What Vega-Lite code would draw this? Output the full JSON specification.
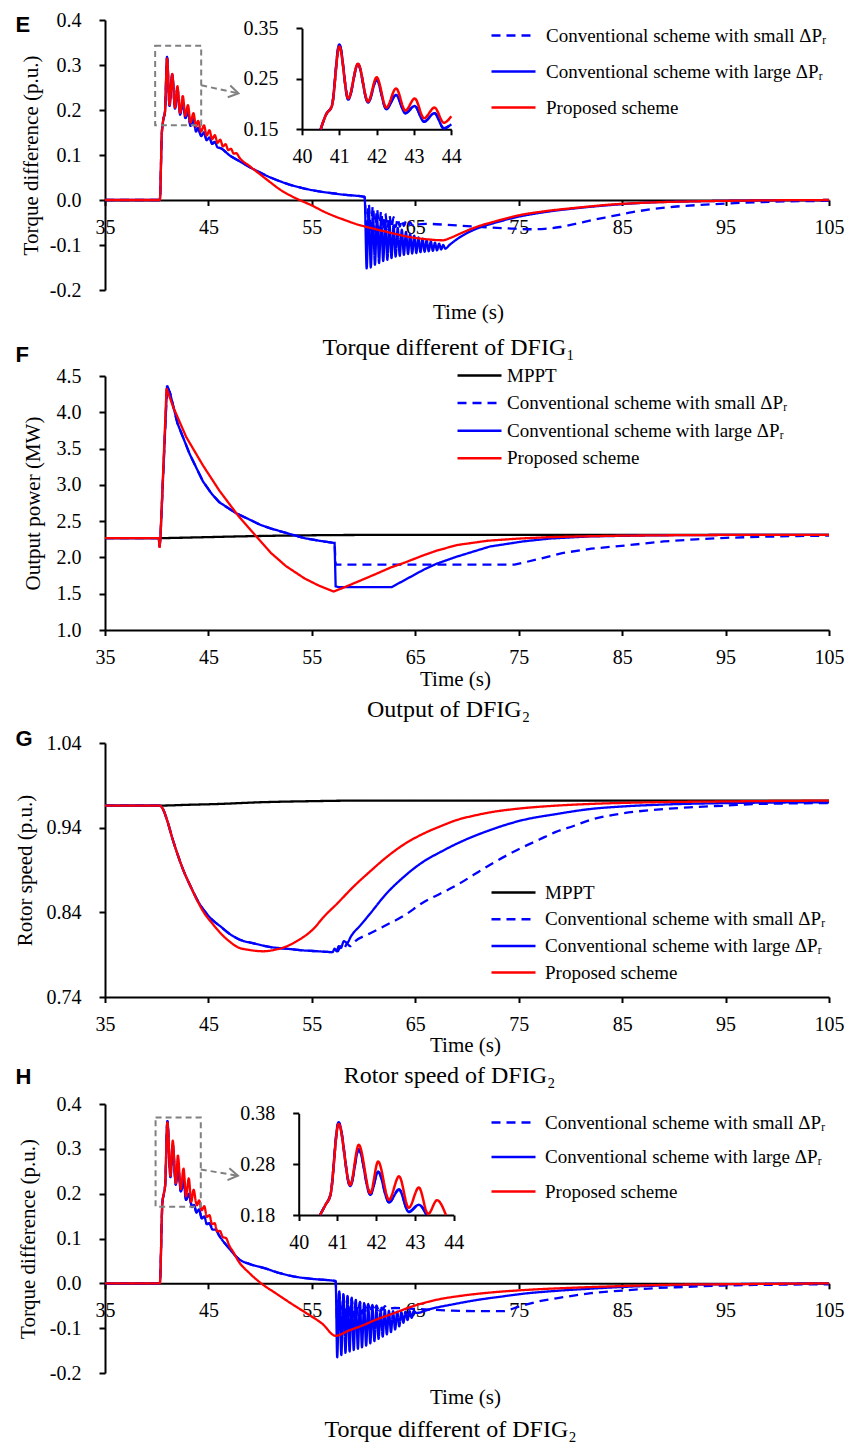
{
"$schema":"https://vega.github.io/schema/vega-lite/v6.json",
"background":"white",
"padding":{"left":13,"top":10,"right":5,"bottom":0},
"autosize":{"type":"pad"},
"spacing":0,
"bounds":"flush",
"datasets":{
"E":[
{"s":"S","t":35,"v":0},{"s":"S","t":40.3,"v":0},{"s":"S","t":40.5,"v":0.15},{"s":"S","t":40.65,"v":0.18},{"s":"S","t":40.8,"v":0.196},{"s":"S","t":41,"v":0.318},{"s":"S","t":41.24,"v":0.209},{"s":"S","t":41.5,"v":0.279},{"s":"S","t":41.77,"v":0.203},{"s":"S","t":42,"v":0.248},{"s":"S","t":42.26,"v":0.19},{"s":"S","t":42.52,"v":0.218},{"s":"S","t":42.77,"v":0.182},{"s":"S","t":43.02,"v":0.196},{"s":"S","t":43.27,"v":0.165},{"s":"S","t":43.55,"v":0.182},{"s":"S","t":43.8,"v":0.152},{"s":"S","t":44,"v":0.16},{"s":"S","t":44.3,"v":0.142},{"s":"S","t":44.57,"v":0.15},{"s":"S","t":44.83,"v":0.133},{"s":"S","t":45.1,"v":0.139},{"s":"S","t":45.36,"v":0.125},{"s":"S","t":45.62,"v":0.129},{"s":"S","t":45.88,"v":0.117},{"s":"S","t":46.2,"v":0.115},{"s":"S","t":47,"v":0.1},{"s":"S","t":48,"v":0.086},{"s":"S","t":49,"v":0.073},{"s":"S","t":50,"v":0.061},{"s":"S","t":51,"v":0.05},{"s":"S","t":52,"v":0.041},{"s":"S","t":53,"v":0.033},{"s":"S","t":54,"v":0.027},{"s":"S","t":55,"v":0.022},{"s":"S","t":56,"v":0.018},{"s":"S","t":57,"v":0.015},{"s":"S","t":58,"v":0.012},{"s":"S","t":59,"v":0.01},{"s":"S","t":60.1,"v":0.007},
{"s":"S","t":60.3,"v":-0.075},{"s":"S","t":60.5,"v":-0.008},{"s":"S","t":60.7,"v":-0.073},{"s":"S","t":60.9,"v":-0.013},{"s":"S","t":61.1,"v":-0.07},{"s":"S","t":61.3,"v":-0.02},{"s":"S","t":61.5,"v":-0.068},{"s":"S","t":61.7,"v":-0.025},{"s":"S","t":61.9,"v":-0.066},{"s":"S","t":62.1,"v":-0.03},{"s":"S","t":62.3,"v":-0.064},{"s":"S","t":62.5,"v":-0.034},{"s":"S","t":62.7,"v":-0.062},{"s":"S","t":62.9,"v":-0.038},{"s":"S","t":63.1,"v":-0.06},{"s":"S","t":63.3,"v":-0.041},{"s":"S","t":63.5,"v":-0.059},{"s":"S","t":63.7,"v":-0.044},{"s":"S","t":63.9,"v":-0.058},{"s":"S","t":64.1,"v":-0.047},{"s":"S","t":64.3,"v":-0.057},{"s":"S","t":64.5,"v":-0.049},{"s":"S","t":64.7,"v":-0.056},{"s":"S","t":64.9,"v":-0.05},{"s":"S","t":65.2,"v":-0.054},{"s":"S","t":66,"v":-0.053},{"s":"S","t":68,"v":-0.055},{"s":"S","t":70,"v":-0.058},{"s":"S","t":72,"v":-0.061},{"s":"S","t":74,"v":-0.063},{"s":"S","t":76,"v":-0.065},{"s":"S","t":77.5,"v":-0.064},{"s":"S","t":79,"v":-0.06},{"s":"S","t":80.5,"v":-0.053},{"s":"S","t":82,"v":-0.045},{"s":"S","t":84,"v":-0.036},{"s":"S","t":86,"v":-0.027},{"s":"S","t":88,"v":-0.02},{"s":"S","t":90,"v":-0.015},{"s":"S","t":92.5,"v":-0.011},{"s":"S","t":95,"v":-0.008},{"s":"S","t":98,"v":-0.005},{"s":"S","t":101,"v":-0.003},{"s":"S","t":105,"v":-0.002},
{"s":"L","t":35,"v":0},{"s":"L","t":40.3,"v":0},{"s":"L","t":40.5,"v":0.15},{"s":"L","t":40.65,"v":0.18},{"s":"L","t":40.8,"v":0.196},{"s":"L","t":41,"v":0.318},{"s":"L","t":41.24,"v":0.209},{"s":"L","t":41.5,"v":0.279},{"s":"L","t":41.77,"v":0.203},{"s":"L","t":42,"v":0.248},{"s":"L","t":42.26,"v":0.19},{"s":"L","t":42.52,"v":0.218},{"s":"L","t":42.77,"v":0.182},{"s":"L","t":43.02,"v":0.196},{"s":"L","t":43.27,"v":0.165},{"s":"L","t":43.55,"v":0.182},{"s":"L","t":43.8,"v":0.152},{"s":"L","t":44,"v":0.16},{"s":"L","t":44.3,"v":0.142},{"s":"L","t":44.57,"v":0.15},{"s":"L","t":44.83,"v":0.133},{"s":"L","t":45.1,"v":0.139},{"s":"L","t":45.36,"v":0.125},{"s":"L","t":45.62,"v":0.129},{"s":"L","t":45.88,"v":0.117},{"s":"L","t":46.2,"v":0.115},{"s":"L","t":47,"v":0.1},{"s":"L","t":48,"v":0.086},{"s":"L","t":49,"v":0.073},{"s":"L","t":50,"v":0.061},{"s":"L","t":51,"v":0.05},{"s":"L","t":52,"v":0.041},{"s":"L","t":53,"v":0.033},{"s":"L","t":54,"v":0.027},{"s":"L","t":55,"v":0.022},{"s":"L","t":56,"v":0.018},{"s":"L","t":57,"v":0.015},{"s":"L","t":58,"v":0.012},{"s":"L","t":59,"v":0.01},{"s":"L","t":60.1,"v":0.007},
{"s":"L","t":60.3,"v":-0.152},{"s":"L","t":60.5,"v":-0.02},{"s":"L","t":60.7,"v":-0.15},{"s":"L","t":60.9,"v":-0.028},{"s":"L","t":61.1,"v":-0.144},{"s":"L","t":61.3,"v":-0.035},{"s":"L","t":61.5,"v":-0.14},{"s":"L","t":61.7,"v":-0.04},{"s":"L","t":61.9,"v":-0.136},{"s":"L","t":62.1,"v":-0.047},{"s":"L","t":62.3,"v":-0.133},{"s":"L","t":62.5,"v":-0.052},{"s":"L","t":62.7,"v":-0.129},{"s":"L","t":62.9,"v":-0.057},{"s":"L","t":63.1,"v":-0.126},{"s":"L","t":63.3,"v":-0.062},{"s":"L","t":63.5,"v":-0.124},{"s":"L","t":63.7,"v":-0.066},{"s":"L","t":63.9,"v":-0.122},{"s":"L","t":64.1,"v":-0.071},{"s":"L","t":64.3,"v":-0.12},{"s":"L","t":64.5,"v":-0.075},{"s":"L","t":64.7,"v":-0.119},{"s":"L","t":64.9,"v":-0.079},{"s":"L","t":65.1,"v":-0.118},{"s":"L","t":65.3,"v":-0.083},{"s":"L","t":65.5,"v":-0.116},{"s":"L","t":65.7,"v":-0.086},{"s":"L","t":65.9,"v":-0.115},{"s":"L","t":66.1,"v":-0.089},{"s":"L","t":66.3,"v":-0.114},{"s":"L","t":66.5,"v":-0.092},{"s":"L","t":66.7,"v":-0.113},{"s":"L","t":66.9,"v":-0.095},{"s":"L","t":67.1,"v":-0.112},{"s":"L","t":67.3,"v":-0.097},{"s":"L","t":67.5,"v":-0.11},{"s":"L","t":67.7,"v":-0.1},{"s":"L","t":67.9,"v":-0.108},{"s":"L","t":68.3,"v":-0.1},{"s":"L","t":69.5,"v":-0.08},{"s":"L","t":70.9,"v":-0.064},{"s":"L","t":72.8,"v":-0.05},{"s":"L","t":74.8,"v":-0.038},{"s":"L","t":77.5,"v":-0.027},{"s":"L","t":80.7,"v":-0.018},{"s":"L","t":84,"v":-0.011},{"s":"L","t":87.2,"v":-0.006},{"s":"L","t":92,"v":-0.003},{"s":"L","t":98,"v":-0.001},{"s":"L","t":105,"v":0},
{"s":"P","t":35,"v":0},{"s":"P","t":40.3,"v":0},{"s":"P","t":40.5,"v":0.15},{"s":"P","t":40.65,"v":0.18},{"s":"P","t":40.8,"v":0.196},{"s":"P","t":41,"v":0.314},{"s":"P","t":41.24,"v":0.211},{"s":"P","t":41.5,"v":0.28},{"s":"P","t":41.77,"v":0.205},{"s":"P","t":42,"v":0.253},{"s":"P","t":42.26,"v":0.193},{"s":"P","t":42.52,"v":0.231},{"s":"P","t":42.77,"v":0.187},{"s":"P","t":43.02,"v":0.211},{"s":"P","t":43.27,"v":0.172},{"s":"P","t":43.55,"v":0.193},{"s":"P","t":43.8,"v":0.163},{"s":"P","t":44,"v":0.176},{"s":"P","t":44.3,"v":0.152},{"s":"P","t":44.57,"v":0.166},{"s":"P","t":44.83,"v":0.143},{"s":"P","t":45.1,"v":0.155},{"s":"P","t":45.36,"v":0.135},{"s":"P","t":45.62,"v":0.144},{"s":"P","t":45.88,"v":0.127},{"s":"P","t":46.14,"v":0.134},{"s":"P","t":46.4,"v":0.119},{"s":"P","t":46.66,"v":0.124},{"s":"P","t":46.92,"v":0.111},{"s":"P","t":47.18,"v":0.114},{"s":"P","t":47.44,"v":0.103},{"s":"P","t":47.7,"v":0.104},{"s":"P","t":48,"v":0.094},{"s":"P","t":49,"v":0.075},{"s":"P","t":50,"v":0.057},{"s":"P","t":51,"v":0.039},{"s":"P","t":52,"v":0.022},{"s":"P","t":53,"v":0.009},{"s":"P","t":54,"v":-0.002},{"s":"P","t":55,"v":-0.012},{"s":"P","t":56,"v":-0.024},{"s":"P","t":57.3,"v":-0.037},{"s":"P","t":58,"v":-0.043},{"s":"P","t":59.5,"v":-0.055},{"s":"P","t":61.2,"v":-0.065},{"s":"P","t":63,"v":-0.075},{"s":"P","t":64.4,"v":-0.082},{"s":"P","t":66,"v":-0.087},{"s":"P","t":67.7,"v":-0.0895},{"s":"P","t":68.3,"v":-0.085},{"s":"P","t":69.5,"v":-0.073},{"s":"P","t":70.9,"v":-0.06},{"s":"P","t":72.8,"v":-0.047},{"s":"P","t":74.8,"v":-0.035},{"s":"P","t":77.5,"v":-0.025},{"s":"P","t":80.7,"v":-0.017},{"s":"P","t":84,"v":-0.01},{"s":"P","t":87.2,"v":-0.006},{"s":"P","t":92,"v":-0.003},{"s":"P","t":98,"v":-0.001},{"s":"P","t":105,"v":0}
],
"F":[
{"s":"M","t":35,"v":2.265},{"s":"M","t":40.3,"v":2.265},{"s":"M","t":42,"v":2.27},{"s":"M","t":45,"v":2.28},{"s":"M","t":48,"v":2.29},{"s":"M","t":51,"v":2.298},{"s":"M","t":54,"v":2.304},{"s":"M","t":57,"v":2.308},{"s":"M","t":60,"v":2.31},{"s":"M","t":70,"v":2.312},{"s":"M","t":105,"v":2.312},
{"s":"S","t":35,"v":2.265},{"s":"S","t":40.2,"v":2.265},{"s":"S","t":40.28,"v":2.15},{"s":"S","t":40.36,"v":2.27},{"s":"S","t":41,"v":4.37},{"s":"S","t":41.3,"v":4.26},{"s":"S","t":42,"v":3.85},{"s":"S","t":43.2,"v":3.42},{"s":"S","t":44.46,"v":3.05},{"s":"S","t":45.3,"v":2.88},{"s":"S","t":46.06,"v":2.76},{"s":"S","t":47.66,"v":2.61},{"s":"S","t":49,"v":2.52},{"s":"S","t":50,"v":2.45},{"s":"S","t":51,"v":2.4},{"s":"S","t":52.7,"v":2.33},{"s":"S","t":54.3,"v":2.265},{"s":"S","t":55.7,"v":2.23},{"s":"S","t":57.1,"v":2.2},{"s":"S","t":57.2,"v":2.2},
{"s":"S","t":57.3,"v":1.9},{"s":"S","t":74.6,"v":1.9},{"s":"S","t":77,"v":1.98},{"s":"S","t":79.2,"v":2.06},{"s":"S","t":82,"v":2.12},{"s":"S","t":85.7,"v":2.17},{"s":"S","t":89,"v":2.22},{"s":"S","t":92.1,"v":2.25},{"s":"S","t":95,"v":2.27},{"s":"S","t":98.5,"v":2.285},{"s":"S","t":102,"v":2.295},{"s":"S","t":105,"v":2.3},
{"s":"L","t":35,"v":2.265},{"s":"L","t":40.2,"v":2.265},{"s":"L","t":40.28,"v":2.15},{"s":"L","t":40.36,"v":2.27},{"s":"L","t":41,"v":4.37},{"s":"L","t":41.3,"v":4.26},{"s":"L","t":42,"v":3.85},{"s":"L","t":43.2,"v":3.42},{"s":"L","t":44.46,"v":3.05},{"s":"L","t":45.3,"v":2.88},{"s":"L","t":46.06,"v":2.76},{"s":"L","t":47.66,"v":2.61},{"s":"L","t":49,"v":2.52},{"s":"L","t":50,"v":2.45},{"s":"L","t":51,"v":2.4},{"s":"L","t":52.7,"v":2.33},{"s":"L","t":54.3,"v":2.265},{"s":"L","t":55.7,"v":2.23},{"s":"L","t":57.1,"v":2.2},{"s":"L","t":57.2,"v":2.2},
{"s":"L","t":57.3,"v":1.6},{"s":"L","t":57.6,"v":1.59},{"s":"L","t":62.7,"v":1.59},{"s":"L","t":64,"v":1.69},{"s":"L","t":65.8,"v":1.83},{"s":"L","t":67,"v":1.91},{"s":"L","t":69,"v":2.01},{"s":"L","t":72.2,"v":2.15},{"s":"L","t":75.4,"v":2.22},{"s":"L","t":78,"v":2.26},{"s":"L","t":81.9,"v":2.29},{"s":"L","t":88.3,"v":2.305},{"s":"L","t":95,"v":2.31},{"s":"L","t":105,"v":2.312},
{"s":"P","t":35,"v":2.265},{"s":"P","t":40.2,"v":2.265},{"s":"P","t":40.28,"v":2.13},{"s":"P","t":40.36,"v":2.27},{"s":"P","t":40.95,"v":4.33},{"s":"P","t":41.6,"v":4.07},{"s":"P","t":42.85,"v":3.66},{"s":"P","t":44.46,"v":3.27},{"s":"P","t":46.06,"v":2.92},{"s":"P","t":47.85,"v":2.58},{"s":"P","t":49.13,"v":2.37},{"s":"P","t":51.06,"v":2.06},{"s":"P","t":52.5,"v":1.88},{"s":"P","t":54.3,"v":1.71},{"s":"P","t":55.7,"v":1.61},{"s":"P","t":57.1,"v":1.53},{"s":"P","t":58,"v":1.58},{"s":"P","t":59,"v":1.64},{"s":"P","t":60,"v":1.7},{"s":"P","t":61,"v":1.76},{"s":"P","t":62.6,"v":1.86},{"s":"P","t":64,"v":1.93},{"s":"P","t":65.8,"v":2.03},{"s":"P","t":67,"v":2.09},{"s":"P","t":69,"v":2.17},{"s":"P","t":72,"v":2.23},{"s":"P","t":75,"v":2.26},{"s":"P","t":78,"v":2.28},{"s":"P","t":81,"v":2.29},{"s":"P","t":85,"v":2.3},{"s":"P","t":90,"v":2.306},{"s":"P","t":95,"v":2.31},{"s":"P","t":105,"v":2.312}
],
"G":[
{"s":"M","t":35,"v":0.966},{"s":"M","t":40,"v":0.966},{"s":"M","t":43,"v":0.967},{"s":"M","t":46,"v":0.968},{"s":"M","t":50,"v":0.97},{"s":"M","t":55,"v":0.9713},{"s":"M","t":60,"v":0.972},{"s":"M","t":105,"v":0.972},
{"s":"S","t":35,"v":0.966},{"s":"S","t":40.3,"v":0.966},{"s":"S","t":40.6,"v":0.962},{"s":"S","t":41,"v":0.949},{"s":"S","t":41.5,"v":0.928},{"s":"S","t":42,"v":0.909},{"s":"S","t":42.6,"v":0.889},{"s":"S","t":43.3,"v":0.87},{"s":"S","t":44,"v":0.853},{"s":"S","t":44.6,"v":0.842},{"s":"S","t":45.3,"v":0.832},{"s":"S","t":46.2,"v":0.823},{"s":"S","t":47,"v":0.815},{"s":"S","t":47.8,"v":0.809},{"s":"S","t":49.5,"v":0.803},{"s":"S","t":51,"v":0.799},{"s":"S","t":52.6,"v":0.797},{"s":"S","t":54.2,"v":0.795},{"s":"S","t":55.6,"v":0.794},{"s":"S","t":57,"v":0.793},
{"s":"S","t":57.2,"v":0.797},{"s":"S","t":57.5,"v":0.794},{"s":"S","t":57.8,"v":0.8},{"s":"S","t":58.1,"v":0.797},{"s":"S","t":58.4,"v":0.803},{"s":"S","t":58.7,"v":0.8},{"s":"S","t":59.2,"v":0.806},{"s":"S","t":60.6,"v":0.815},{"s":"S","t":62.2,"v":0.825},{"s":"S","t":63.9,"v":0.836},{"s":"S","t":65.8,"v":0.852},{"s":"S","t":67.4,"v":0.862},{"s":"S","t":69,"v":0.872},{"s":"S","t":70.6,"v":0.884},{"s":"S","t":72.2,"v":0.896},{"s":"S","t":73.8,"v":0.907},{"s":"S","t":75.4,"v":0.917},{"s":"S","t":77,"v":0.926},{"s":"S","t":78.6,"v":0.935},{"s":"S","t":80.3,"v":0.942},{"s":"S","t":81.9,"v":0.949},{"s":"S","t":85.1,"v":0.957},{"s":"S","t":88,"v":0.961},{"s":"S","t":91.5,"v":0.964},{"s":"S","t":95,"v":0.966},{"s":"S","t":98,"v":0.968},{"s":"S","t":105,"v":0.969},
{"s":"L","t":35,"v":0.966},{"s":"L","t":40.3,"v":0.966},{"s":"L","t":40.6,"v":0.962},{"s":"L","t":41,"v":0.949},{"s":"L","t":41.5,"v":0.928},{"s":"L","t":42,"v":0.909},{"s":"L","t":42.6,"v":0.889},{"s":"L","t":43.3,"v":0.87},{"s":"L","t":44,"v":0.853},{"s":"L","t":44.6,"v":0.842},{"s":"L","t":45.3,"v":0.832},{"s":"L","t":46.2,"v":0.823},{"s":"L","t":47,"v":0.815},{"s":"L","t":47.8,"v":0.809},{"s":"L","t":49.5,"v":0.803},{"s":"L","t":51,"v":0.799},{"s":"L","t":52.6,"v":0.797},{"s":"L","t":54.2,"v":0.795},{"s":"L","t":55.6,"v":0.794},{"s":"L","t":57,"v":0.793},
{"s":"L","t":57.2,"v":0.797},{"s":"L","t":57.4,"v":0.794},{"s":"L","t":57.6,"v":0.8},{"s":"L","t":57.8,"v":0.798},{"s":"L","t":58.1,"v":0.806},{"s":"L","t":58.4,"v":0.804},{"s":"L","t":58.8,"v":0.812},{"s":"L","t":59.1,"v":0.817},{"s":"L","t":59.5,"v":0.822},{"s":"L","t":60.6,"v":0.838},{"s":"L","t":62.2,"v":0.862},{"s":"L","t":63.9,"v":0.882},{"s":"L","t":65.8,"v":0.9},{"s":"L","t":67.4,"v":0.911},{"s":"L","t":69,"v":0.921},{"s":"L","t":72.2,"v":0.937},{"s":"L","t":75.4,"v":0.949},{"s":"L","t":78.6,"v":0.956},{"s":"L","t":81.9,"v":0.962},{"s":"L","t":85,"v":0.965},{"s":"L","t":88.3,"v":0.967},{"s":"L","t":95,"v":0.969},{"s":"L","t":105,"v":0.97},
{"s":"P","t":35,"v":0.966},{"s":"P","t":40.3,"v":0.966},{"s":"P","t":40.6,"v":0.962},{"s":"P","t":41,"v":0.949},{"s":"P","t":41.5,"v":0.928},{"s":"P","t":42,"v":0.909},{"s":"P","t":42.6,"v":0.889},{"s":"P","t":43.3,"v":0.87},{"s":"P","t":44,"v":0.852},{"s":"P","t":44.6,"v":0.839},{"s":"P","t":45.3,"v":0.828},{"s":"P","t":46.2,"v":0.815},{"s":"P","t":47,"v":0.806},{"s":"P","t":47.8,"v":0.799},{"s":"P","t":49,"v":0.7955},{"s":"P","t":50.3,"v":0.794},{"s":"P","t":51.5,"v":0.796},{"s":"P","t":52.6,"v":0.8},{"s":"P","t":53.4,"v":0.805},{"s":"P","t":54.2,"v":0.811},{"s":"P","t":55.2,"v":0.821},{"s":"P","t":56.1,"v":0.834},{"s":"P","t":57.5,"v":0.851},{"s":"P","t":59,"v":0.87},{"s":"P","t":60.6,"v":0.888},{"s":"P","t":62.2,"v":0.905},{"s":"P","t":64,"v":0.921},{"s":"P","t":65.8,"v":0.933},{"s":"P","t":67.5,"v":0.942},{"s":"P","t":69,"v":0.949},{"s":"P","t":70.6,"v":0.954},{"s":"P","t":72.2,"v":0.958},{"s":"P","t":75.4,"v":0.963},{"s":"P","t":78.6,"v":0.966},{"s":"P","t":81.9,"v":0.968},{"s":"P","t":88,"v":0.97},{"s":"P","t":95,"v":0.971},{"s":"P","t":105,"v":0.972}
],
"H":[
{"s":"S","t":35,"v":0},{"s":"S","t":40.3,"v":0},{"s":"S","t":40.55,"v":0.18},{"s":"S","t":40.69,"v":0.2},{"s":"S","t":40.82,"v":0.22},{"s":"S","t":41.03,"v":0.362},{"s":"S","t":41.33,"v":0.237},{"s":"S","t":41.55,"v":0.309},{"s":"S","t":41.85,"v":0.22},{"s":"S","t":42.05,"v":0.265},{"s":"S","t":42.33,"v":0.205},{"s":"S","t":42.59,"v":0.23},{"s":"S","t":42.84,"v":0.186},{"s":"S","t":43.1,"v":0.2},{"s":"S","t":43.3,"v":0.18},{"s":"S","t":43.4,"v":0.17},{"s":"S","t":43.6,"v":0.175},{"s":"S","t":43.85,"v":0.158},{"s":"S","t":44.1,"v":0.165},{"s":"S","t":44.35,"v":0.145},{"s":"S","t":44.6,"v":0.149},{"s":"S","t":44.85,"v":0.132},{"s":"S","t":45.1,"v":0.134},{"s":"S","t":45.4,"v":0.12},{"s":"S","t":45.7,"v":0.12},{"s":"S","t":46,"v":0.108},{"s":"S","t":47,"v":0.078},{"s":"S","t":48,"v":0.053},{"s":"S","t":49,"v":0.043},{"s":"S","t":50.4,"v":0.034},{"s":"S","t":52,"v":0.022},{"s":"S","t":53.6,"v":0.014},{"s":"S","t":55,"v":0.01},{"s":"S","t":57,"v":0.006},{"s":"S","t":57.3,"v":0.005},
{"s":"S","t":57.45,"v":-0.09},{"s":"S","t":57.65,"v":-0.02},{"s":"S","t":57.85,"v":-0.088},{"s":"S","t":58.05,"v":-0.025},{"s":"S","t":58.25,"v":-0.083},{"s":"S","t":58.45,"v":-0.03},{"s":"S","t":58.65,"v":-0.079},{"s":"S","t":58.85,"v":-0.034},{"s":"S","t":59.05,"v":-0.075},{"s":"S","t":59.25,"v":-0.038},{"s":"S","t":59.45,"v":-0.071},{"s":"S","t":59.65,"v":-0.041},{"s":"S","t":59.85,"v":-0.068},{"s":"S","t":60.05,"v":-0.044},{"s":"S","t":60.25,"v":-0.066},{"s":"S","t":60.45,"v":-0.046},{"s":"S","t":60.65,"v":-0.064},{"s":"S","t":60.85,"v":-0.048},{"s":"S","t":61.05,"v":-0.062},{"s":"S","t":61.25,"v":-0.049},{"s":"S","t":61.45,"v":-0.06},{"s":"S","t":61.65,"v":-0.05},{"s":"S","t":61.85,"v":-0.059},{"s":"S","t":62.05,"v":-0.051},{"s":"S","t":62.3,"v":-0.057},{"s":"S","t":63,"v":-0.055},{"s":"S","t":65,"v":-0.057},{"s":"S","t":68.6,"v":-0.061},{"s":"S","t":71,"v":-0.062},{"s":"S","t":73.5,"v":-0.062},{"s":"S","t":75,"v":-0.052},{"s":"S","t":77,"v":-0.04},{"s":"S","t":79.3,"v":-0.031},{"s":"S","t":82,"v":-0.022},{"s":"S","t":85.1,"v":-0.016},{"s":"S","t":88,"v":-0.011},{"s":"S","t":91,"v":-0.008},{"s":"S","t":94.7,"v":-0.005},{"s":"S","t":100,"v":-0.003},{"s":"S","t":105,"v":-0.002},
{"s":"L","t":35,"v":0},{"s":"L","t":40.3,"v":0},{"s":"L","t":40.55,"v":0.18},{"s":"L","t":40.69,"v":0.2},{"s":"L","t":40.82,"v":0.22},{"s":"L","t":41.03,"v":0.362},{"s":"L","t":41.33,"v":0.237},{"s":"L","t":41.55,"v":0.309},{"s":"L","t":41.85,"v":0.22},{"s":"L","t":42.05,"v":0.265},{"s":"L","t":42.33,"v":0.205},{"s":"L","t":42.59,"v":0.23},{"s":"L","t":42.84,"v":0.186},{"s":"L","t":43.1,"v":0.2},{"s":"L","t":43.3,"v":0.18},{"s":"L","t":43.4,"v":0.17},{"s":"L","t":43.6,"v":0.175},{"s":"L","t":43.85,"v":0.158},{"s":"L","t":44.1,"v":0.165},{"s":"L","t":44.35,"v":0.145},{"s":"L","t":44.6,"v":0.149},{"s":"L","t":44.85,"v":0.132},{"s":"L","t":45.1,"v":0.134},{"s":"L","t":45.4,"v":0.12},{"s":"L","t":45.7,"v":0.12},{"s":"L","t":46,"v":0.108},{"s":"L","t":47,"v":0.078},{"s":"L","t":48,"v":0.053},{"s":"L","t":49,"v":0.043},{"s":"L","t":50.4,"v":0.034},{"s":"L","t":52,"v":0.022},{"s":"L","t":53.6,"v":0.014},{"s":"L","t":55,"v":0.01},{"s":"L","t":57,"v":0.006},{"s":"L","t":57.3,"v":0.005},
{"s":"L","t":57.45,"v":-0.165},{"s":"L","t":57.65,"v":-0.018},{"s":"L","t":57.85,"v":-0.16},{"s":"L","t":58.05,"v":-0.024},{"s":"L","t":58.25,"v":-0.155},{"s":"L","t":58.45,"v":-0.028},{"s":"L","t":58.65,"v":-0.152},{"s":"L","t":58.85,"v":-0.032},{"s":"L","t":59.05,"v":-0.149},{"s":"L","t":59.25,"v":-0.037},{"s":"L","t":59.45,"v":-0.146},{"s":"L","t":59.65,"v":-0.042},{"s":"L","t":59.85,"v":-0.143},{"s":"L","t":60.05,"v":-0.045},{"s":"L","t":60.25,"v":-0.139},{"s":"L","t":60.45,"v":-0.049},{"s":"L","t":60.65,"v":-0.134},{"s":"L","t":60.85,"v":-0.052},{"s":"L","t":61.05,"v":-0.129},{"s":"L","t":61.25,"v":-0.055},{"s":"L","t":61.45,"v":-0.124},{"s":"L","t":61.65,"v":-0.058},{"s":"L","t":61.85,"v":-0.119},{"s":"L","t":62.05,"v":-0.059},{"s":"L","t":62.25,"v":-0.114},{"s":"L","t":62.45,"v":-0.061},{"s":"L","t":62.65,"v":-0.109},{"s":"L","t":62.85,"v":-0.062},{"s":"L","t":63.05,"v":-0.103},{"s":"L","t":63.25,"v":-0.063},{"s":"L","t":63.45,"v":-0.096},{"s":"L","t":63.65,"v":-0.064},{"s":"L","t":63.85,"v":-0.088},{"s":"L","t":64.05,"v":-0.063},{"s":"L","t":64.25,"v":-0.082},{"s":"L","t":64.45,"v":-0.062},{"s":"L","t":64.65,"v":-0.077},{"s":"L","t":64.85,"v":-0.062},{"s":"L","t":65.1,"v":-0.066},{"s":"L","t":66.5,"v":-0.057},{"s":"L","t":68.6,"v":-0.047},{"s":"L","t":71,"v":-0.037},{"s":"L","t":73.5,"v":-0.029},{"s":"L","t":75.5,"v":-0.023},{"s":"L","t":78.5,"v":-0.017},{"s":"L","t":81.9,"v":-0.012},{"s":"L","t":85.1,"v":-0.008},{"s":"L","t":90,"v":-0.004},{"s":"L","t":95,"v":-0.002},{"s":"L","t":105,"v":0},
{"s":"P","t":35,"v":0},{"s":"P","t":40.3,"v":0},{"s":"P","t":40.55,"v":0.18},{"s":"P","t":40.69,"v":0.2},{"s":"P","t":40.82,"v":0.22},{"s":"P","t":41.03,"v":0.359},{"s":"P","t":41.33,"v":0.239},{"s":"P","t":41.55,"v":0.318},{"s":"P","t":41.85,"v":0.223},{"s":"P","t":42.05,"v":0.285},{"s":"P","t":42.33,"v":0.21},{"s":"P","t":42.59,"v":0.256},{"s":"P","t":42.84,"v":0.194},{"s":"P","t":43.1,"v":0.234},{"s":"P","t":43.34,"v":0.182},{"s":"P","t":43.57,"v":0.209},{"s":"P","t":43.8,"v":0.18},{"s":"P","t":43.9,"v":0.174},{"s":"P","t":44.1,"v":0.185},{"s":"P","t":44.35,"v":0.163},{"s":"P","t":44.6,"v":0.172},{"s":"P","t":44.85,"v":0.148},{"s":"P","t":45.1,"v":0.152},{"s":"P","t":45.35,"v":0.132},{"s":"P","t":45.6,"v":0.134},{"s":"P","t":45.85,"v":0.116},{"s":"P","t":46.1,"v":0.117},{"s":"P","t":46.4,"v":0.103},{"s":"P","t":46.7,"v":0.101},{"s":"P","t":47,"v":0.085},{"s":"P","t":47.4,"v":0.07},{"s":"P","t":47.86,"v":0.051},{"s":"P","t":49,"v":0.022},{"s":"P","t":50.1,"v":0},{"s":"P","t":51.5,"v":-0.022},{"s":"P","t":53,"v":-0.045},{"s":"P","t":54.5,"v":-0.067},{"s":"P","t":56,"v":-0.09},{"s":"P","t":57.3,"v":-0.117},{"s":"P","t":58.5,"v":-0.106},{"s":"P","t":60,"v":-0.093},{"s":"P","t":61,"v":-0.083},{"s":"P","t":63,"v":-0.066},{"s":"P","t":64.9,"v":-0.05},{"s":"P","t":67,"v":-0.037},{"s":"P","t":69.7,"v":-0.027},{"s":"P","t":72.5,"v":-0.02},{"s":"P","t":75.5,"v":-0.015},{"s":"P","t":80,"v":-0.01},{"s":"P","t":85.1,"v":-0.006},{"s":"P","t":90,"v":-0.003},{"s":"P","t":95,"v":-0.002},{"s":"P","t":105,"v":0}
]
},
"vconcat":[
{
"width":724,"height":356,
"layer":[
{"data":{"name":"E"},"mark":{"type":"line","strokeWidth":2.3,"interpolate":"monotone"},
"encoding":{
"x":{"field":"t","type":"quantitative","scale":{"domain":[35,105],"nice":false,"zero":false},"axis":{"orient":"bottom","offset":-176,"values":[35,45,55,65,75,85,95,105],"format":"d","title":"Time (s)","titleX":363,"titleY":118,"titleAlign":"center","titleBaseline":"alphabetic"}},
"y":{"field":"v","type":"quantitative","scale":{"domain":[-0.2,0.4],"range":[270,0],"nice":false,"zero":false},"axis":{"orient":"left","values":[-0.2,-0.1,0,0.1,0.2,0.3,0.4],"labelExpr":"datum.value < 0 ? '-' + format(-datum.value, '.1f') : format(datum.value, '.1f')","title":"Torque difference (p.u.)","titleX":-74,"titleBaseline":"middle"}},
"color":{"field":"s","type":"nominal","scale":{"domain":["S","L","P"],"range":["#0000ff","#0000ff","#ff0000"]},"legend":{"title":null,"orient":"none","legendX":396,"legendY":3,"rowPadding":13,"labelOffset":20,"labelExpr":"datum.label == 'M' ? 'MPPT' : datum.label == 'S' ? 'Conventional scheme with small ΔPᵣ' : datum.label == 'L' ? 'Conventional scheme with large ΔPᵣ' : 'Proposed scheme'"}},
"strokeDash":{"field":"s","type":"nominal","scale":{"domain":["S","L","P"],"range":[[9,6],[1,0],[1,0]]},"legend":{"title":null,"orient":"none","legendX":396,"legendY":3,"rowPadding":13,"labelOffset":20,"labelExpr":"datum.label == 'M' ? 'MPPT' : datum.label == 'S' ? 'Conventional scheme with small ΔPᵣ' : datum.label == 'L' ? 'Conventional scheme with large ΔPᵣ' : 'Proposed scheme'"}}
}},
{"data":{"values":[{"x1":39.85,"x2":44.3,"y1":0.166,"y2":0.343}]},"mark":{"type":"rect","fill":"transparent","stroke":"#808080","strokeWidth":2,"strokeDash":[6,4]},
"encoding":{"x":{"field":"x1","type":"quantitative","scale":{"domain":[35,105],"nice":false,"zero":false},"axis":null},"x2":{"field":"x2"},"y":{"field":"y1","type":"quantitative","scale":{"domain":[-0.2,0.4],"range":[270,0],"nice":false,"zero":false},"axis":null},"y2":{"field":"y2"}}},
{"data":{"values":[{"t":44.3,"v":0.255},{"t":47.9,"v":0.237}]},"mark":{"type":"line","color":"#808080","strokeWidth":2,"strokeDash":[6,4]},
"encoding":{"x":{"field":"t","type":"quantitative","scale":{"domain":[35,105],"nice":false,"zero":false},"axis":null},"y":{"field":"v","type":"quantitative","scale":{"domain":[-0.2,0.4],"range":[270,0],"nice":false,"zero":false},"axis":null}}},
{"data":{"values":[{"t":47.9,"v":0.237}]},"mark":{"type":"point","shape":"M-1.6,-1L0,0L-1.6,1","size":144,"filled":false,"color":"#808080","strokeWidth":2,"opacity":1,"angle":12},
"encoding":{"x":{"field":"t","type":"quantitative","scale":{"domain":[35,105],"nice":false,"zero":false},"axis":null},"y":{"field":"v","type":"quantitative","scale":{"domain":[-0.2,0.4],"range":[270,0],"nice":false,"zero":false},"axis":null}}},
{"data":{"name":"E"},"transform":[{"filter":"datum.t >= 40.45 && datum.t <= 44.0 && datum.v >= 0.15"}],"mark":{"type":"line","strokeWidth":2.5,"interpolate":"monotone"},
"encoding":{
"x":{"field":"t","type":"quantitative","scale":{"domain":[40,44],"range":[197,346.3],"nice":false,"zero":false},"axis":{"orient":"bottom","offset":-246.7,"values":[40,41,42,43,44],"format":"d","title":null}},
"y":{"field":"v","type":"quantitative","scale":{"domain":[0.15,0.35],"range":[109.3,8.3],"nice":false,"zero":false},"axis":{"orient":"left","offset":-197,"values":[0.15,0.25,0.35],"format":".2f","title":null}},
"color":{"field":"s","type":"nominal","scale":{"domain":["S","L","P"],"range":["#0000ff","#0000ff","#ff0000"]},"legend":null},
"strokeDash":{"field":"s","type":"nominal","scale":{"domain":["S","L","P"],"range":[[9,6],[1,0],[1,0]]},"legend":null}
}},
{"data":{"values":[{"t":70,"v":0}]},"mark":{"type":"point","opacity":0},
"encoding":{
"x":{"field":"t","type":"quantitative","scale":{"domain":[35,105],"nice":false,"zero":false},"axis":{"orient":"bottom","offset":0,"domain":false,"ticks":false,"labels":false,"title":"Torque different of DFIG₁","titleFontSize":24,"titleX":343,"titleY":-21.7,"titleAlign":"center","titleBaseline":"alphabetic"}},
"y":{"field":"v","type":"quantitative","scale":{"domain":[-1,1],"nice":false,"zero":false},"axis":{"orient":"left","offset":0,"domain":false,"ticks":false,"labels":false,"title":"E","titleAngle":0,"titleX":-90,"titleY":11.7,"titleAlign":"left","titleBaseline":"alphabetic","titleFont":"Liberation Sans","titleFontWeight":"bold","titleFontSize":22}}
}}
],
"resolve":{"scale":{"x":"independent","y":"independent"}}
},
{
"width":724,"height":367,
"layer":[
{"data":{"name":"F"},"mark":{"type":"line","strokeWidth":2.3},
"encoding":{
"x":{"field":"t","type":"quantitative","scale":{"domain":[35,105],"nice":false,"zero":false},"axis":{"orient":"bottom","offset":-113,"values":[35,45,55,65,75,85,95,105],"format":"d","title":"Time (s)","titleX":350,"titleY":55,"titleAlign":"center","titleBaseline":"alphabetic"}},
"y":{"field":"v","type":"quantitative","scale":{"domain":[1,4.5],"range":[254,0],"nice":false,"zero":false},"axis":{"orient":"left","values":[1,1.5,2,2.5,3,3.5,4,4.5],"format":".1f","title":"Output power (MW)","titleX":-71.5,"titleBaseline":"middle"}},
"color":{"field":"s","type":"nominal","scale":{"domain":["M","S","L","P"],"range":["#000000","#0000ff","#0000ff","#ff0000"]},"legend":{"title":null,"orient":"none","legendX":362,"legendY":-13,"rowPadding":4.6,"labelOffset":15,"labelExpr":"datum.label == 'M' ? 'MPPT' : datum.label == 'S' ? 'Conventional scheme with small ΔPᵣ' : datum.label == 'L' ? 'Conventional scheme with large ΔPᵣ' : 'Proposed scheme'"}},
"strokeDash":{"field":"s","type":"nominal","scale":{"domain":["M","S","L","P"],"range":[[1,0],[9,6],[1,0],[1,0]]},"legend":{"title":null,"orient":"none","legendX":362,"legendY":-13,"rowPadding":4.6,"labelOffset":15,"labelExpr":"datum.label == 'M' ? 'MPPT' : datum.label == 'S' ? 'Conventional scheme with small ΔPᵣ' : datum.label == 'L' ? 'Conventional scheme with large ΔPᵣ' : 'Proposed scheme'"}}
}},
{"data":{"values":[{"t":70,"v":0}]},"mark":{"type":"point","opacity":0},
"encoding":{
"x":{"field":"t","type":"quantitative","scale":{"domain":[35,105],"nice":false,"zero":false},"axis":{"orient":"bottom","offset":0,"domain":false,"ticks":false,"labels":false,"title":"Output of DFIG₂","titleFontSize":24,"titleX":343,"titleY":-26.3,"titleAlign":"center","titleBaseline":"alphabetic"}},
"y":{"field":"v","type":"quantitative","scale":{"domain":[-1,1],"nice":false,"zero":false},"axis":{"orient":"left","offset":0,"domain":false,"ticks":false,"labels":false,"title":"F","titleAngle":0,"titleX":-90,"titleY":-14.3,"titleAlign":"left","titleBaseline":"alphabetic","titleFont":"Liberation Sans","titleFontWeight":"bold","titleFontSize":22}}
}}
],
"resolve":{"scale":{"x":"independent","y":"independent"}}
},
{
"width":724,"height":361,
"layer":[
{"data":{"name":"G"},"mark":{"type":"line","strokeWidth":2.3,"interpolate":"monotone"},
"encoding":{
"x":{"field":"t","type":"quantitative","scale":{"domain":[35,105],"nice":false,"zero":false},"axis":{"orient":"bottom","offset":-107,"values":[35,45,55,65,75,85,95,105],"format":"d","title":"Time (s)","titleX":360,"titleY":54.7,"titleAlign":"center","titleBaseline":"alphabetic"}},
"y":{"field":"v","type":"quantitative","scale":{"domain":[0.74,1.04],"range":[254,0],"nice":false,"zero":false},"axis":{"orient":"left","values":[0.74,0.84,0.94,1.04],"format":".2f","title":"Rotor speed (p.u.)","titleX":-80,"titleBaseline":"middle"}},
"color":{"field":"s","type":"nominal","scale":{"domain":["M","S","L","P"],"range":["#000000","#0000ff","#0000ff","#ff0000"]},"legend":{"title":null,"orient":"none","legendX":396,"legendY":137,"rowPadding":3.7,"labelOffset":19,"labelExpr":"datum.label == 'M' ? 'MPPT' : datum.label == 'S' ? 'Conventional scheme with small ΔPᵣ' : datum.label == 'L' ? 'Conventional scheme with large ΔPᵣ' : 'Proposed scheme'"}},
"strokeDash":{"field":"s","type":"nominal","scale":{"domain":["M","S","L","P"],"range":[[1,0],[9,6],[1,0],[1,0]]},"legend":{"title":null,"orient":"none","legendX":396,"legendY":137,"rowPadding":3.7,"labelOffset":19,"labelExpr":"datum.label == 'M' ? 'MPPT' : datum.label == 'S' ? 'Conventional scheme with small ΔPᵣ' : datum.label == 'L' ? 'Conventional scheme with large ΔPᵣ' : 'Proposed scheme'"}}
}},
{"data":{"values":[{"t":70,"v":0}]},"mark":{"type":"point","opacity":0},
"encoding":{
"x":{"field":"t","type":"quantitative","scale":{"domain":[35,105],"nice":false,"zero":false},"axis":{"orient":"bottom","offset":0,"domain":false,"ticks":false,"labels":false,"title":"Rotor speed of DFIG₂","titleFontSize":24,"titleX":344,"titleY":-21.3,"titleAlign":"center","titleBaseline":"alphabetic"}},
"y":{"field":"v","type":"quantitative","scale":{"domain":[-1,1],"nice":false,"zero":false},"axis":{"orient":"left","offset":0,"domain":false,"ticks":false,"labels":false,"title":"G","titleAngle":0,"titleX":-90,"titleY":2,"titleAlign":"left","titleBaseline":"alphabetic","titleFont":"Liberation Sans","titleFontWeight":"bold","titleFontSize":22}}
}}
],
"resolve":{"scale":{"x":"independent","y":"independent"}}
},
{
"width":724,"height":341,
"layer":[
{"data":{"name":"H"},"mark":{"type":"line","strokeWidth":2.3,"interpolate":"monotone"},
"encoding":{
"x":{"field":"t","type":"quantitative","scale":{"domain":[35,105],"nice":false,"zero":false},"axis":{"orient":"bottom","offset":-161.7,"values":[35,45,55,65,75,85,95,105],"format":"d","title":"Time (s)","titleX":360,"titleY":119.7,"titleAlign":"center","titleBaseline":"alphabetic"}},
"y":{"field":"v","type":"quantitative","scale":{"domain":[-0.2,0.4],"range":[269,0],"nice":false,"zero":false},"axis":{"orient":"left","values":[-0.2,-0.1,0,0.1,0.2,0.3,0.4],"labelExpr":"datum.value < 0 ? '-' + format(-datum.value, '.1f') : format(datum.value, '.1f')","title":"Torque difference  (p.u.)","titleX":-77,"titleBaseline":"middle"}},
"color":{"field":"s","type":"nominal","scale":{"domain":["S","L","P"],"range":["#0000ff","#0000ff","#ff0000"]},"legend":{"title":null,"orient":"none","legendX":396,"legendY":6,"rowPadding":11.5,"labelOffset":19,"labelExpr":"datum.label == 'M' ? 'MPPT' : datum.label == 'S' ? 'Conventional scheme with small ΔPᵣ' : datum.label == 'L' ? 'Conventional scheme with large ΔPᵣ' : 'Proposed scheme'"}},
"strokeDash":{"field":"s","type":"nominal","scale":{"domain":["S","L","P"],"range":[[9,6],[1,0],[1,0]]},"legend":{"title":null,"orient":"none","legendX":396,"legendY":6,"rowPadding":11.5,"labelOffset":19,"labelExpr":"datum.label == 'M' ? 'MPPT' : datum.label == 'S' ? 'Conventional scheme with small ΔPᵣ' : datum.label == 'L' ? 'Conventional scheme with large ΔPᵣ' : 'Proposed scheme'"}}
}},
{"data":{"values":[{"x1":39.89,"x2":44.26,"y1":0.171,"y2":0.37}]},"mark":{"type":"rect","fill":"transparent","stroke":"#808080","strokeWidth":2,"strokeDash":[6,4]},
"encoding":{"x":{"field":"x1","type":"quantitative","scale":{"domain":[35,105],"nice":false,"zero":false},"axis":null},"x2":{"field":"x2"},"y":{"field":"y1","type":"quantitative","scale":{"domain":[-0.2,0.4],"range":[269,0],"nice":false,"zero":false},"axis":null},"y2":{"field":"y2"}}},
{"data":{"values":[{"t":44.26,"v":0.254},{"t":47.85,"v":0.24}]},"mark":{"type":"line","color":"#808080","strokeWidth":2,"strokeDash":[6,4]},
"encoding":{"x":{"field":"t","type":"quantitative","scale":{"domain":[35,105],"nice":false,"zero":false},"axis":null},"y":{"field":"v","type":"quantitative","scale":{"domain":[-0.2,0.4],"range":[269,0],"nice":false,"zero":false},"axis":null}}},
{"data":{"values":[{"t":47.85,"v":0.24}]},"mark":{"type":"point","shape":"M-1.6,-1L0,0L-1.6,1","size":144,"filled":false,"color":"#808080","strokeWidth":2,"opacity":1,"angle":9},
"encoding":{"x":{"field":"t","type":"quantitative","scale":{"domain":[35,105],"nice":false,"zero":false},"axis":null},"y":{"field":"v","type":"quantitative","scale":{"domain":[-0.2,0.4],"range":[269,0],"nice":false,"zero":false},"axis":null}}},
{"data":{"name":"H"},"transform":[{"filter":"datum.t >= 40.5 && datum.t <= 44.0 && datum.v >= 0.18"}],"mark":{"type":"line","strokeWidth":2.5,"interpolate":"monotone"},
"encoding":{
"x":{"field":"t","type":"quantitative","scale":{"domain":[40,44],"range":[193.7,348.7],"nice":false,"zero":false},"axis":{"orient":"bottom","offset":-230,"values":[40,41,42,43,44],"format":"d","title":null}},
"y":{"field":"v","type":"quantitative","scale":{"domain":[0.18,0.38],"range":[111,9.3],"nice":false,"zero":false},"axis":{"orient":"left","offset":-193.7,"values":[0.18,0.28,0.38],"format":".2f","title":null}},
"color":{"field":"s","type":"nominal","scale":{"domain":["S","L","P"],"range":["#0000ff","#0000ff","#ff0000"]},"legend":null},
"strokeDash":{"field":"s","type":"nominal","scale":{"domain":["S","L","P"],"range":[[9,6],[1,0],[1,0]]},"legend":null}
}},
{"data":{"values":[{"t":70,"v":0}]},"mark":{"type":"point","opacity":0},
"encoding":{
"x":{"field":"t","type":"quantitative","scale":{"domain":[35,105],"nice":false,"zero":false},"axis":{"orient":"bottom","offset":0,"domain":false,"ticks":false,"labels":false,"title":"Torque different of DFIG₂","titleFontSize":24,"titleX":345,"titleY":-9,"titleAlign":"center","titleBaseline":"alphabetic"}},
"y":{"field":"v","type":"quantitative","scale":{"domain":[-1,1],"nice":false,"zero":false},"axis":{"orient":"left","offset":0,"domain":false,"ticks":false,"labels":false,"title":"H","titleAngle":0,"titleX":-90,"titleY":-20.7,"titleAlign":"left","titleBaseline":"alphabetic","titleFont":"Liberation Sans","titleFontWeight":"bold","titleFontSize":22}}
}}
],
"resolve":{"scale":{"x":"independent","y":"independent"}}
}
],
"resolve":{"scale":{"color":"independent","strokeDash":"independent"}},
"config":{
"view":{"stroke":null},
"font":"Liberation Serif",
"axis":{"grid":false,"domainColor":"#000000","domainWidth":2,"tickColor":"#000000","tickWidth":2,"labelFont":"Liberation Serif","labelFontSize":20,"labelColor":"#000000","titleFont":"Liberation Serif","titleFontSize":21,"titleFontWeight":"normal","titleColor":"#000000","labelOverlap":false,"labelFlush":false,"labelBound":false},
"axisX":{"labelPadding":11.5,"tickSize":5.5},
"axisY":{"labelPadding":18,"tickSize":6},
"legend":{"labelFont":"Liberation Serif","labelFontSize":19,"labelColor":"#000000","labelLimit":600,"symbolType":"M-2,0L2,0","symbolSize":484,"symbolStrokeWidth":2.5,"padding":0,"offset":0}
}
}
